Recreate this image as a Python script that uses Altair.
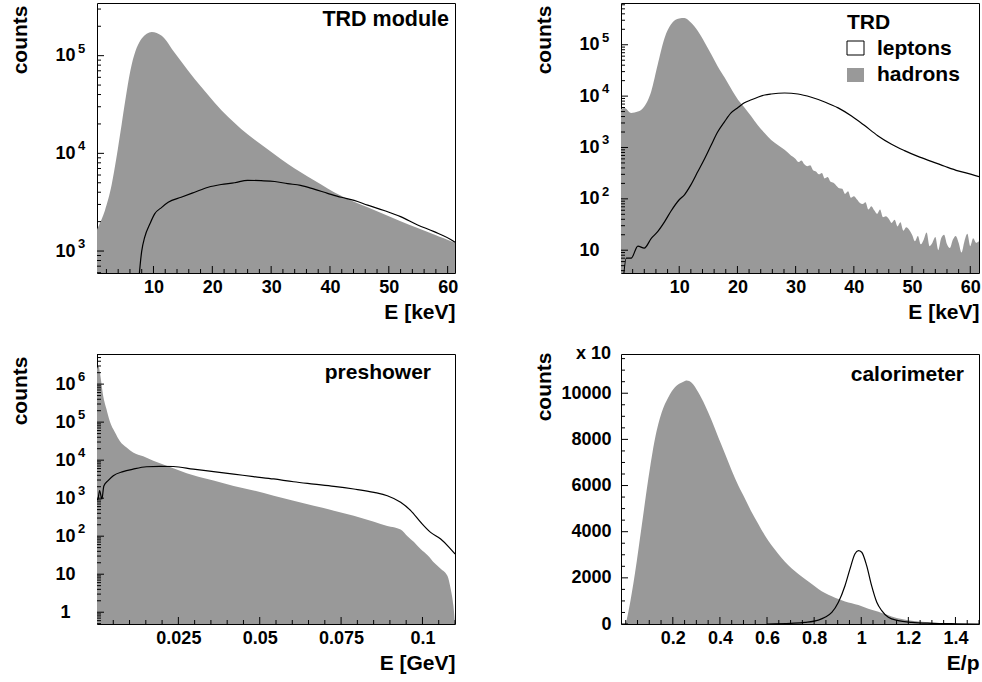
import altair as alt
import pandas as pd
import numpy as np

FONT = "Liberation Sans"
GRAY = "#999999"
W, H = 358, 270
MAJ, MIN = 7, 4

# ---------------- data ----------------
# Panel 1: TRD module
mod_had_E = [0.4, 0.6, 1.75, 2.9, 3.7, 4.6, 6.3, 8.0, 9.7, 11.4, 13.6, 15.9, 18.1, 20.4, 22.7, 24.9,
             27.2, 29.4, 31.7, 34.0, 36.2, 38.5, 40.7, 43.6, 46.4, 49.2, 52.0, 54.9, 57.7, 61.0, 61.25]
mod_had_N = [1650, 1760, 2600, 4800, 9000, 20000, 81000, 150000, 175000, 160000, 107000, 70000, 48000,
             33000, 23500, 17800, 13800, 11000, 8700, 7000, 5800, 4800, 4000, 3300, 2800, 2380, 2020,
             1720, 1480, 1230, 1210]
mod_lep_E = [7.2, 8.0, 8.5, 9.4, 10.2, 11.4, 12.5, 14.7, 17.0, 19.3, 21.5, 23.8, 26.0, 28.3, 30.6,
             32.8, 35.0, 37.3, 39.6, 41.9, 44.1, 46.4, 49.2, 52.0, 54.9, 57.7, 61.0, 61.25]
mod_lep_N = [300, 1000, 1380, 1900, 2400, 2800, 3150, 3550, 4000, 4500, 4800, 5000, 5300, 5250, 5150,
             4900, 4700, 4300, 3900, 3550, 3300, 2950, 2600, 2250, 1850, 1580, 1260, 1230]

# Panel 2: TRD (sum)
trd_had_E = [0.0, 0.6, 1.75, 2.9, 4.0, 5.2, 6.3, 7.5, 8.6, 10.0, 10.9, 12.0, 13.2, 14.4, 15.5, 16.6,
             17.8, 18.9, 20.1, 21.2, 22.4, 23.5, 24.7, 25.8, 27.0, 28.1, 29.2,
             30.0, 30.5, 31.0, 31.5, 32.0, 32.5, 33.0, 33.5, 34.0, 34.5,
             35.0, 35.5, 36.0, 36.5, 37.0, 37.5, 38.0, 38.5, 39.0, 39.5, 40.0, 40.5, 41.0, 41.5, 42.0,
             42.5, 43.0, 43.5, 44.0, 44.5, 45.0, 45.5, 46.0, 46.5, 47.0, 47.5, 48.0, 48.5, 49.0, 49.5,
             50.0, 50.5, 51.0, 51.5, 52.0, 52.5, 53.0, 53.5, 54.0, 54.5, 55.0, 55.5, 56.0, 56.5, 57.0,
             57.5, 58.0, 58.5, 59.0, 59.5, 60.0, 60.5, 61.0, 61.5]
trd_had_N = [5600, 5900, 4700, 5000, 6300, 12500, 41000, 137000, 250000, 325000, 330000, 270000,
             185000, 110000, 65000, 38000, 23000, 14000, 8500, 6000, 4000, 2700, 1900, 1400, 1100, 900, 700,
             600, 520, 560, 470, 430, 450, 360, 340, 300, 320,
             250, 265, 215, 205, 180, 160, 158, 125, 140, 105, 112, 98, 84, 79, 86,
             62, 72, 60, 51, 62, 44, 46, 41, 34, 39, 29, 35, 24, 28, 25,
             20, 15, 19, 13, 16, 22, 12, 14, 18, 10, 17, 20, 13, 11, 16,
             19, 14, 9, 15, 21, 12, 17, 14, 15]
trd_lep_E = [0.3, 0.9, 1.75, 2.9, 4.0, 5.2, 6.3, 7.5, 8.6, 10.0, 10.9, 12.0, 13.2, 14.4, 15.5, 16.6,
             17.8, 18.9, 20.1, 21.2, 22.4, 23.5, 24.7, 25.8, 28.1, 30.4, 32.7, 35.0, 37.3, 39.6, 41.8,
             44.1, 46.4, 48.7, 51.0, 53.3, 55.6, 57.9, 60.2, 61.5]
trd_lep_N = [2, 7, 7, 12, 11, 17, 23, 36, 58, 96, 120, 187, 340, 620, 1120, 2000, 3200, 4700, 6000,
             7400, 8500, 9500, 10500, 11000, 11500, 11000, 9500, 7700, 5900, 4100, 2700, 1700, 1170,
             870, 670, 535, 430, 350, 300, 270]

# Panel 3: preshower
pre_had_E = [0.0, 0.0005, 0.0009, 0.0019, 0.0029, 0.0039, 0.0055, 0.007, 0.0091, 0.0111, 0.0142,
             0.0173, 0.0214, 0.0255, 0.0296, 0.0358, 0.042, 0.0481, 0.0543, 0.0604, 0.0666, 0.0728,
             0.0789, 0.0851, 0.0892, 0.0933, 0.0954, 0.0974, 0.0995, 0.1015, 0.1036, 0.1056, 0.1077,
             0.1087, 0.1095, 0.11]
pre_had_N = [2.5e6, 3.0e6, 2.0e6, 4.9e5, 2.2e5, 1.07e5, 5.4e4, 3.2e4, 2.15e4, 1.6e4, 1.26e4, 9.6e3,
             7.1e3, 5.3e3, 4.0e3, 2.9e3, 2.1e3, 1.6e3, 1.16e3, 860, 630, 470, 345, 240, 185, 150, 100,
             70, 45, 32, 20, 14, 9, 4, 1.5, 0.5]
pre_lep_E = [0.0, 0.0003, 0.0008, 0.0015, 0.0021, 0.0034, 0.005, 0.008, 0.0111, 0.0152, 0.0193,
             0.0235, 0.0296, 0.0358, 0.042, 0.0481, 0.0543, 0.0604, 0.0666, 0.0728, 0.0789, 0.0851,
             0.0892, 0.0933, 0.0964, 0.0995, 0.1025, 0.1056, 0.1082, 0.11]
pre_lep_N = [900, 950, 1580, 950, 2100, 2900, 3900, 5000, 5800, 6700, 6900, 6800, 5800, 5000, 4300,
             3700, 3200, 2700, 2350, 2050, 1740, 1420, 1160, 780, 470, 230, 126, 84, 51, 34]

# Panel 4: calorimeter (counts x 10)
cal_had_Ep = [0.0, 0.011, 0.04, 0.068, 0.096, 0.124, 0.153, 0.181, 0.209, 0.245, 0.259, 0.28, 0.308,
              0.337, 0.365, 0.393, 0.422, 0.45, 0.478, 0.507, 0.535, 0.563, 0.591, 0.62, 0.648, 0.676,
              0.705, 0.733, 0.761, 0.79, 0.818, 0.846, 0.875, 0.903, 0.931, 0.96, 0.988, 1.016, 1.044,
              1.073, 1.101, 1.129, 1.172, 1.214, 1.271, 1.327, 1.384, 1.44, 1.5]
cal_had_N = [0, 506, 2240, 4260, 6290, 8020, 9180, 9830, 10260, 10500, 10550, 10450, 10040, 9470,
             8815, 8090, 7370, 6650, 6000, 5420, 4840, 4335, 3830, 3400, 3035, 2700, 2410, 2170, 1950,
             1730, 1520, 1340, 1200, 1080, 980, 900, 820, 720, 620, 535, 430, 330, 215, 145, 87, 43,
             15, 5, 0]
cal_lep_Ep = [0.6, 0.7, 0.761, 0.818, 0.846, 0.875, 0.903, 0.931, 0.952, 0.973, 0.988, 1.002, 1.023,
              1.044, 1.066, 1.087, 1.115, 1.157, 1.214, 1.299, 1.41, 1.5]
cal_lep_N = [0, 30, 70, 170, 290, 500, 940, 1660, 2380, 3035, 3180, 3110, 2530, 1660, 940, 580, 290,
             145, 72, 30, 10, 0]


# ---------------- helpers ----------------
def log_ticks(lo, hi):
    major, minor = [], []
    for k in range(-2, 8):
        for m in range(1, 10):
            v = m * 10.0 ** k
            if lo <= v <= hi:
                (major if m == 1 else minor).append(v)
    return major, minor


def lin_minor(start, stop, step, major):
    vals = np.round(np.arange(start, stop + step / 2, step), 6)
    mj = set(np.round(major, 6))
    return [float(v) for v in vals if v not in mj]


def txt(s, x, y, align="left", size=21, baseline="alphabetic"):
    return alt.Chart(pd.DataFrame({"t": [s]})).mark_text(
        text=s, align=align, baseline=baseline, font=FONT, fontSize=size,
        fontWeight="bold", color="black").encode(x=alt.value(x), y=alt.value(y))


def panel(had_x, had_y, lep_x, lep_y, xdom, ydom, ylog, xmaj, xmin, ymaj, ymin, xtitle,
          ylabel_expr, ylabel_align, ylabel_pad, exps, title_y, extras):
    xscale = alt.Scale(domain=xdom, nice=False, zero=False)
    yscale = (alt.Scale(type="log", domain=ydom, nice=False) if ylog
              else alt.Scale(domain=ydom, nice=False, zero=False))
    xaxis = alt.Axis(values=xmaj, labelExpr="toString(datum.value)", ticks=False, tickSize=0,
                     domain=False, grid=False,
                     labelPadding=5, labelFont=FONT, labelFontSize=18, labelFontWeight="bold",
                     labelColor="black", labelFlush=False, labelOverlap=False,
                     title=xtitle, titleFont=FONT, titleFontSize=21, titleFontWeight="bold",
                     titleColor="black", titleAnchor="end", titleAlign="right", titleX=W,
                     titleY=45, titleBaseline="alphabetic")
    yaxis = alt.Axis(values=ymaj, labelExpr=ylabel_expr, ticks=False, tickSize=0, domain=False,
                     grid=False, labelAlign=ylabel_align, labelPadding=ylabel_pad, labelFont=FONT,
                     labelFontSize=18, labelFontWeight="bold", labelColor="black",
                     labelFlush=False, labelOverlap=False,
                     title="counts", titleFont=FONT, titleFontSize=21, titleFontWeight="bold",
                     titleColor="black", titleAnchor="end", titleAlign="right", titleAngle=270,
                     titleX=-71, titleY=title_y, titleBaseline="alphabetic")
    xdef = alt.X("x:Q", scale=xscale, axis=xaxis)
    ydef = alt.Y("y:Q", scale=yscale, axis=yaxis, stack=None)

    had_df = pd.DataFrame({"x": had_x, "y": had_y})
    had_df["lo"] = ydom[0]
    had = alt.Chart(had_df).mark_area(
        color=GRAY, interpolate="monotone", clip=True).encode(x=xdef, y=ydef, y2=alt.Y2("lo:Q"))
    lep = alt.Chart(pd.DataFrame({"x": lep_x, "y": lep_y})).mark_line(
        color="black", strokeWidth=1.2, interpolate="monotone", clip=True).encode(x=xdef, y=ydef)
    layers = [had, lep]
    for vals, L in ((ymaj, MAJ), (ymin, MIN)):
        layers.append(alt.Chart(pd.DataFrame({"y": vals})).mark_rule(color="black", strokeWidth=1)
                      .encode(y=ydef, x=alt.value(0), x2=alt.value(L)))
    for vals, L in ((xmaj, MAJ), (xmin, MIN)):
        layers.append(alt.Chart(pd.DataFrame({"x": vals})).mark_rule(color="black", strokeWidth=1)
                      .encode(x=xdef, y=alt.value(H), y2=alt.value(H - L)))
    if exps:
        ev, et = zip(*exps)
        layers.append(alt.Chart(pd.DataFrame({"y": list(ev), "e": list(et)})).mark_text(
            align="left", baseline="middle", dy=-7, font=FONT, fontSize=13, fontWeight="bold",
            color="black").encode(y=ydef, x=alt.value(-19), text="e:N"))
    layers += extras
    return alt.layer(*layers).properties(width=W, height=H)


# Panel 1
y1maj, y1min = log_ticks(596, 3.46e5)
x1maj = [10, 20, 30, 40, 50, 60]
p1 = panel(mod_had_E, mod_had_N, mod_lep_E, mod_lep_N, [0.4, 61.25], [596, 3.46e5], True,
           x1maj, lin_minor(2, 60, 2, x1maj), y1maj, y1min, "E [keV]", "'10'", "center", 32,
           [(1e3, "3"), (1e4, "4"), (1e5, "5")], 2,
           [txt("TRD module", 352, 23, align="right", size=21.5)])

# Panel 2
y2maj, y2min = log_ticks(3.6, 6.5e5)
legend_df = pd.DataFrame({"a": [0]})
box_lep = alt.Chart(legend_df).mark_rect(fill="white", stroke="black", strokeWidth=1).encode(
    x=alt.value(226), x2=alt.value(243), y=alt.value(38), y2=alt.value(52))
box_had = alt.Chart(legend_df).mark_rect(fill=GRAY).encode(
    x=alt.value(226), x2=alt.value(243), y=alt.value(65), y2=alt.value(79))
p2 = panel(trd_had_E, trd_had_N, trd_lep_E, trd_lep_N, [0, 61.5], [3.6, 6.5e5], True,
           x1maj, lin_minor(2, 60, 2, x1maj), y2maj, y2min, "E [keV]", "'10'", "center", 32,
           [(1e2, "2"), (1e3, "3"), (1e4, "4"), (1e5, "5")], 2,
           [txt("TRD", 226, 26), box_lep, box_had, txt("leptons", 256, 52), txt("hadrons", 256, 78)])

# Panel 3
y3maj, y3min = log_ticks(0.49, 6.2e6)
x3maj = [0.025, 0.05, 0.075, 0.1]
p3 = panel(pre_had_E, pre_had_N, pre_lep_E, pre_lep_N, [0, 0.11], [0.49, 6.2e6], True,
           x3maj, lin_minor(0.005, 0.11, 0.005, x3maj), y3maj, y3min, "E [GeV]",
           "datum.value < 5 ? '1' : '10'", "center", 32,
           [(1e2, "2"), (1e3, "3"), (1e4, "4"), (1e5, "5"), (1e6, "6")], 2,
           [txt("preshower", 334, 25, align="right")])

# Panel 4
x4maj = [0.2, 0.4, 0.6, 0.8, 1.0, 1.2, 1.4]
y4maj = [0, 2000, 4000, 6000, 8000, 10000]
p4 = panel(cal_had_Ep, cal_had_N, cal_lep_Ep, cal_lep_N, [-0.02, 1.5], [0, 11700], False,
           x4maj, lin_minor(0.0, 1.5, 0.05, x4maj), y4maj, lin_minor(0, 11500, 500, y4maj), "E/p",
           "format(datum.value, 'd')", "right", 10, [], -2,
           [txt("calorimeter", 343, 27, align="right"),
            txt("x 10", -10, 0, align="right", size=18, baseline="middle")])

chart = alt.concat(p1, p2, p3, p4, columns=2, spacing={"row": 81, "column": 166}).properties(
    bounds="flush", padding={"left": 8, "top": 2, "right": 0, "bottom": 0}, background="white"
).configure_view(stroke="black", strokeWidth=1)

chart.save("out.html", embed_options={"renderer": "svg", "actions": False})
